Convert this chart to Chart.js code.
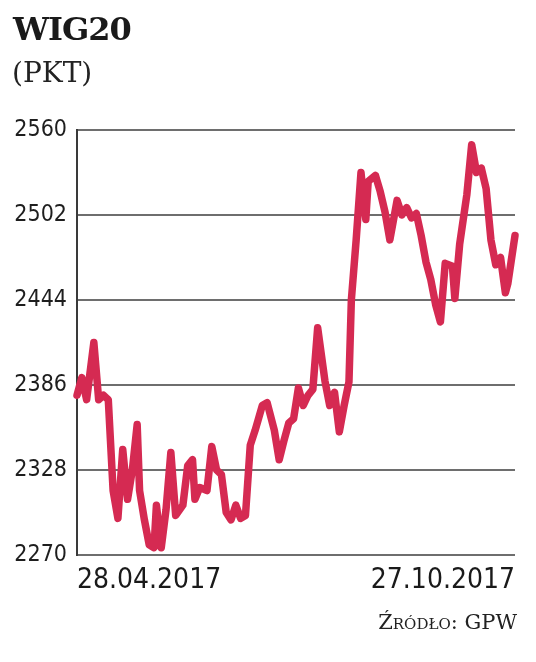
<!DOCTYPE html>
<html>
<head>
<meta charset="utf-8">
<script src="https://cdn.jsdelivr.net/npm/chart.js@4/dist/chart.umd.min.js"></script>
<style>
  html, body { margin: 0; padding: 0; background: #fff; }
  body { width: 536px; height: 662px; position: relative; overflow: hidden; }
  #title { position: absolute; left: 13px; top: 10px; font-family: "DejaVu Serif", serif; font-weight: bold; font-size: 32px; color: #1a1a1a; letter-spacing: -1px; }
  #unit { position: absolute; left: 12px; top: 56px; font-family: "DejaVu Serif", serif; font-size: 28px; color: #222; }
  #source { position: absolute; right: 19px; top: 610px; font-family: "DejaVu Serif", serif; font-variant: small-caps; font-size: 21px; color: #222; }
  #wrap { position: absolute; left: 0; top: 0; width: 536px; height: 662px; }
</style>
</head>
<body>
<div id="wrap"><canvas id="c" width="536" height="662"></canvas></div>
<div id="title">WIG20</div>
<div id="unit">(PKT)</div>
<div id="source">Źródło: GPW</div>
<script>
// Day offsets from 28.04.2017 and WIG20 values (points)
const days = [0,2,4,7,9,11,13,14,15,17,19,21,23,25,26,28,30,32,33,35,37,39,41,44,46,48,49,51,54,56,58,60,62,64,66,68,70,72,74,77,79,82,84,86,88,90,92,94,96,98,100,103,105,107,109,111,113,114,116,118,120,121,124,126,128,130,133,135,137,139,141,143,145,147,149,151,153,156,157,159,162,164,166,168,170,172,174,176,178,179,182];
const values = [2379,2391,2376,2415,2376,2379,2376,2345,2314,2295,2342,2308,2328,2359,2314,2294,2277,2275,2304,2275,2301,2340,2297,2304,2331,2335,2308,2316,2314,2344,2328,2325,2299,2294,2304,2295,2297,2345,2355,2372,2374,2355,2335,2348,2360,2363,2384,2372,2379,2383,2425,2389,2372,2381,2354,2372,2388,2444,2485,2531,2499,2525,2529,2518,2504,2485,2512,2502,2507,2500,2503,2488,2470,2458,2441,2429,2469,2467,2445,2482,2516,2550,2531,2534,2520,2485,2468,2473,2449,2455,2488];
const xTickLabels = ["28.04.2017", "27.10.2017"];
const yTicks = [2270, 2328, 2386, 2444, 2502, 2560];

const points = days.map((d, i) => ({ x: d, y: values[i] }));
const lastDay = days[days.length - 1];
const tickFont = '"Liberation Sans Narrow", "DejaVu Sans Condensed", "Roboto", sans-serif';

new Chart(document.getElementById('c'), {
  type: 'line',
  data: {
    datasets: [{
      data: points,
      borderColor: '#d52a52',
      borderWidth: 7.5,
      pointRadius: 0,
      tension: 0,
      borderJoinStyle: 'round',
      borderCapStyle: 'round',
      clip: 8
    }]
  },
  options: {
    responsive: false,
    animation: false,
    events: [],
    layout: { padding: { top: 130, right: 21, bottom: 67, left: 0 } },
    plugins: { legend: { display: false }, tooltip: { enabled: false } },
    scales: {
      x: {
        type: 'linear',
        min: 0,
        max: lastDay,
        afterBuildTicks: (axis) => { axis.ticks = [{ value: 0 }, { value: lastDay }]; },
        afterFit: (axis) => { axis.height = 40; },
        grid: { display: false, drawTicks: false },
        border: { display: false },
        ticks: {
          align: 'inner',
          padding: 9,
          maxRotation: 0,
          autoSkip: false,
          color: '#1a1a1a',
          font: { family: tickFont, size: 28 },
          callback: (v) => (v === 0 ? xTickLabels[0] : xTickLabels[1])
        }
      },
      y: {
        min: yTicks[0],
        max: yTicks[yTicks.length - 1],
        afterBuildTicks: (axis) => { axis.ticks = yTicks.map(v => ({ value: v })); },
        afterFit: (axis) => { axis.width = 77; },
        grid: { color: '#6e6e6e', lineWidth: 2, drawTicks: false },
        border: { display: true, color: '#3a3a3a', width: 2 },
        ticks: {
          padding: 10,
          color: '#1e1e1e',
          font: { family: tickFont, size: 23 },
          callback: (v) => String(v)
        }
      }
    }
  }
});
</script>
</body>
</html>
